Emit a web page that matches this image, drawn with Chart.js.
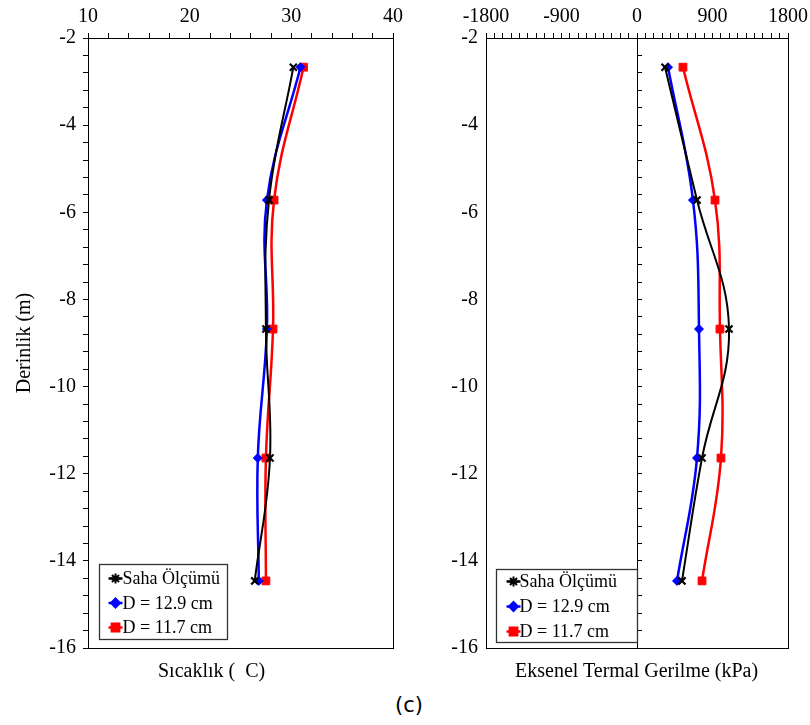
<!DOCTYPE html>
<html>
<head>
<meta charset="utf-8">
<script src="https://cdn.jsdelivr.net/npm/chart.js@4.4.1/dist/chart.umd.min.js"></script>
<style>
  body { margin: 0; background: #fff; }
  #wrap { position: relative; width: 810px; height: 725px; overflow: hidden; }
  canvas { position: absolute; top: 0; }
  .lbl { position: absolute; font-family: "Liberation Serif", "Times New Roman", serif; font-size: 20px; color: #000; white-space: pre; }
</style>
</head>
<body>
<div id="wrap">
  <canvas id="tempChart" width="405" height="662" style="left:0"></canvas>
  <canvas id="stressChart" width="405" height="662" style="left:405px"></canvas>
  <div class="lbl" style="left:158px; top:659px;">Sıcaklık (  C)</div>
  <div class="lbl" style="left:515px; top:659px;">Eksenel Termal Gerilme (kPa)</div>
  <div class="lbl" style="left:395px; top:693px; font-family:'DejaVu Sans', sans-serif; font-size:21px;">(c)</div>
</div>
<script>
// depth of each reading (m)
const depths = [-2.67, -5.72, -8.68, -11.64, -14.46];
const seriesNames = ['Saha Ölçümü', 'D = 12.9 cm', 'D = 11.7 cm'];

// temperature (C)
const tempSaha = [30.2, 27.8, 27.5, 27.9, 26.4];
const tempD129 = [30.9, 27.6, 27.6, 26.7, 26.8];
const tempD117 = [31.2, 28.3, 28.2, 27.5, 27.5];

// axial thermal stress (kPa)
const stressSaha = [334, 715, 1097, 775, 536];
const stressD129 = [370, 667, 739, 715, 477];
const stressD117 = [548, 930, 989, 1001, 775];

const depthTicks = [-2, -4, -6, -8, -10, -12, -14, -16];
const tempTicks = [10, 20, 30, 40];
const stressTicks = [-1800, -900, 0, 900, 1800];

Chart.defaults.font.family = '"Liberation Serif", "Times New Roman", serif';
Chart.defaults.font.size = 20;
Chart.defaults.color = '#000';

const isOneOf = (v, list) => list.some(t => Math.abs(t - v) < 1e-6);

const pts = (xs) => xs.map((x, i) => ({ x: x, y: depths[i] }));

const makeDatasets = (a, b, c) => [
  { label: seriesNames[0], data: pts(a), borderColor: '#000', backgroundColor: '#000', borderWidth: 2,
    pointStyle: 'crossRot', pointRadius: 5, pointBorderWidth: 2.2, tension: 0.4 },
  { label: seriesNames[1], data: pts(b), borderColor: '#0000ff', backgroundColor: '#0000ff', borderWidth: 2.5,
    pointStyle: 'rectRot', pointRadius: 4.5, pointBorderWidth: 1, tension: 0.4 },
  { label: seriesNames[2], data: pts(c), borderColor: '#ff0000', backgroundColor: '#ff0000', borderWidth: 2.5,
    pointStyle: 'rect', pointRadius: 5.5, pointBorderWidth: 1, tension: 0.4 }
];

// keep the plot box where the layout padding puts it
const noPadX = (s, h) => { s.height = h; s.paddingLeft = 0; s.paddingRight = 0; };
const noPadY = (s, w) => { s.width = w; s.paddingTop = 0; s.paddingBottom = 0; };

// box round the plot + legend inside the plot
const frameAndLegend = {
  id: 'frameAndLegend',
  afterDraw(chart, args, opts) {
    const { ctx, chartArea } = chart;
    ctx.save();
    ctx.strokeStyle = '#000';
    ctx.lineWidth = 1;
    ctx.strokeRect(Math.round(chartArea.left) + 0.5, Math.round(chartArea.top) + 0.5,
      Math.round(chartArea.right - chartArea.left), Math.round(chartArea.bottom - chartArea.top));

    const x = Math.round(chartArea.left + opts.dx) + 0.5;
    const y = Math.round(chartArea.bottom - opts.dy - opts.h) + 0.5;
    ctx.fillStyle = '#fff';
    ctx.fillRect(x, y, opts.w, opts.h);
    ctx.strokeStyle = '#333';
    ctx.lineWidth = 1.3;
    ctx.strokeRect(x, y, opts.w, opts.h);

    chart.data.datasets.forEach((ds, i) => {
      const cy = y + opts.row0 + i * opts.gap;
      const mx = x + opts.mx;
      ctx.strokeStyle = ds.borderColor;
      ctx.lineWidth = 2.5;
      ctx.beginPath();
      ctx.moveTo(mx - 7, cy);
      ctx.lineTo(mx + 7, cy);
      ctx.stroke();
      ctx.fillStyle = ds.backgroundColor;
      ctx.lineWidth = 2;
      Chart.helpers.drawPoint(ctx, {
        pointStyle: i === 0 ? 'star' : ds.pointStyle,
        radius: ds.pointRadius,
        rotation: 0,
        borderWidth: 2
      }, mx, cy);
      ctx.fillStyle = '#000';
      ctx.font = '18px "Liberation Serif", "Times New Roman", serif';
      ctx.textBaseline = 'middle';
      ctx.textAlign = 'left';
      ctx.fillText(ds.label, x + opts.tx, cy + 1);
    });
    ctx.restore();
  }
};

// left: temperature
new Chart(document.getElementById('tempChart'), {
  type: 'line',
  data: { datasets: makeDatasets(tempSaha, tempD129, tempD117) },
  plugins: [frameAndLegend],
  options: {
    responsive: false,
    animation: false,
    layout: { padding: { left: 13, right: 12, top: 0, bottom: 14 } },
    plugins: {
      legend: { display: false },
      tooltip: { enabled: false },
      frameAndLegend: { dx: 11, dy: 9, w: 128, h: 75, row0: 14, gap: 24.5, mx: 16, tx: 23 }
    },
    scales: {
      x: {
        type: 'linear', position: 'top', min: 10, max: 40,
        ticks: { stepSize: 2, autoSkip: false, maxRotation: 0, padding: 4,
          callback: (v) => isOneOf(v, tempTicks) ? String(v) : '' },
        grid: { drawOnChartArea: false, tickLength: 5, color: '#000' },
        border: { color: '#000', width: 1 },
        afterFit: (s) => noPadX(s, 38)
      },
      y: {
        type: 'linear', min: -16, max: -2,
        ticks: { stepSize: 0.4, autoSkip: false, padding: 7,
          callback: (v) => isOneOf(v, depthTicks) ? String(Math.round(v)) : '' },
        grid: { drawOnChartArea: false, tickLength: 5, color: '#000' },
        border: { color: '#000', width: 1 },
        title: { display: true, text: 'Derinlik (m)', font: { size: 20 }, padding: 0 },
        afterFit: (s) => noPadY(s, 75)
      }
    }
  }
});

// right: axial thermal stress
new Chart(document.getElementById('stressChart'), {
  type: 'line',
  data: { datasets: makeDatasets(stressSaha, stressD129, stressD117) },
  plugins: [frameAndLegend],
  options: {
    responsive: false,
    animation: false,
    layout: { padding: { left: 0, right: 22, top: 0, bottom: 14 } },
    plugins: {
      legend: { display: false },
      tooltip: { enabled: false },
      frameAndLegend: { dx: 10, dy: 6, w: 141, h: 73, row0: 12, gap: 25, mx: 17, tx: 23 }
    },
    scales: {
      x: {
        type: 'linear', position: 'top', min: -1800, max: 1800,
        ticks: { stepSize: 100, autoSkip: false, maxRotation: 0, padding: 4,
          callback: (v) => isOneOf(v, stressTicks) ? String(v) : '' },
        grid: { drawOnChartArea: false, tickLength: 5, color: '#000' },
        border: { color: '#000', width: 1 },
        afterFit: (s) => noPadX(s, 38)
      },
      y: {
        type: 'linear', min: -16, max: -2,
        ticks: { stepSize: 2, autoSkip: false, padding: 8 },
        grid: { drawOnChartArea: false, drawTicks: false },
        border: { color: '#000', width: 1 },
        afterFit: (s) => noPadY(s, 81)
      },
      y0: {
        type: 'linear', axis: 'y', position: { x: 0 }, min: -16, max: -2,
        ticks: { display: false, stepSize: 0.4, autoSkip: false },
        grid: { drawOnChartArea: false, tickLength: -5, color: '#000' },
        border: { color: '#000', width: 1 },
        afterFit: (s) => { s.paddingTop = 0; s.paddingBottom = 0; }
      }
    }
  }
});
</script>
</body>
</html>
